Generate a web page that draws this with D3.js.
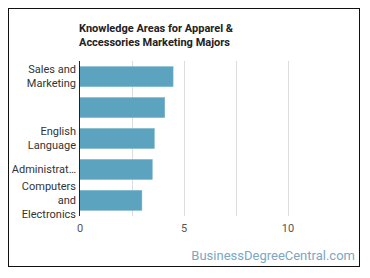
<!DOCTYPE html>
<html>
<head>
<meta charset="utf-8">
<script src="https://cdn.jsdelivr.net/npm/d3@7"></script>
<style>
  body { margin: 0; background: #fff; font-family: Roboto, "Noto Sans", sans-serif; }
</style>
</head>
<body>
<div id="chart"></div>
<script>
let categories = [
    ["Sales and", "Marketing"],
    [],
    ["English", "Language"],
    ["Administrat\u2026"],
    ["Computers", "and", "Electronics"]];
let values = [4.5, 4.1, 3.6, 3.5, 3.0];
let gridTicks = [0, 2.5, 5, 7.5, 10, 12.5];
let tickLabels = [0, 5, 10];

let width = 370;
let height = 278;
let margin = {top: 61, right: 30, bottom: 62, left: 79.5};

let svg = d3.select("#chart")
    .append("svg")
    .attr("width", width)
    .attr("height", height);

// outer frame
svg.append("rect")
    .attr("x", 8.5)
    .attr("y", 8.5)
    .attr("width", 351)
    .attr("height", 258)
    .attr("fill", "#fff")
    .attr("stroke", "#111")
    .attr("stroke-width", 1);

let x = d3.scaleLinear()
    .domain([0, 12.5])
    .range([margin.left, width - margin.right - 0.5]);

let y = d3.scaleBand()
    .domain(d3.range(categories.length))
    .range([margin.top, height - margin.bottom])
    .paddingInner(0.35)
    .paddingOuter(0.18);

// title
let title = svg.append("text")
    .attr("x", 79)
    .attr("y", 32)
    .style("font-size", "11px")
    .style("font-weight", "bold")
    .style("fill", "#222");
title.append("tspan").attr("x", 79).text("Knowledge Areas for Apparel &");
title.append("tspan").attr("x", 79).attr("dy", 14).text("Accessories Marketing Majors");

// grid
svg.selectAll(".grid")
    .data(gridTicks.slice(1, -1))
    .enter().append("line")
    .attr("class", "grid")
    .attr("x1", d => Math.round(x(d)) + 0.5)
    .attr("x2", d => Math.round(x(d)) + 0.5)
    .attr("y1", margin.top)
    .attr("y2", height - margin.bottom)
    .attr("stroke", "#ddd")
    .attr("stroke-width", 1);

// bars
svg.selectAll(".bar")
    .data(values)
    .enter().append("rect")
    .attr("class", "bar")
    .attr("x", x(0))
    .attr("y", (d, i) => y(i))
    .attr("width", d => x(d) - x(0))
    .attr("height", y.bandwidth())
    .attr("fill", "#5ba3bf")
    .attr("stroke", "#7db6cc")
    .attr("stroke-width", 0.5);

// y axis line
svg.append("line")
    .attr("x1", x(0))
    .attr("x2", x(0))
    .attr("y1", margin.top)
    .attr("y2", height - margin.bottom)
    .attr("stroke", "#222")
    .attr("stroke-width", 1);

// category labels
let labels = svg.selectAll(".cat")
    .data(categories)
    .enter().append("text")
    .attr("class", "cat")
    .attr("text-anchor", "end")
    .style("font-size", "11px")
    .style("fill", "#333");

labels.each(function(lines, i) {
    let cy = y(i) + y.bandwidth() / 2;
    let lh = 14;
    let start = cy - (lines.length - 1) * lh / 2;
    d3.select(this).selectAll("tspan")
        .data(lines)
        .enter().append("tspan")
        .attr("x", 76)
        .attr("y", (d, j) => start + j * lh)
        .attr("dy", "0.35em")
        .text(d => d);
});

// x tick labels
let xAxis = d3.axisBottom(x)
    .tickValues(tickLabels)
    .tickSize(0)
    .tickPadding(8);

svg.append("g")
    .attr("transform", "translate(0," + (height - margin.bottom) + ")")
    .call(xAxis)
    .call(g => g.select(".domain").remove())
    .call(g => g.selectAll("text")
        .style("font-size", "11px")
        .style("font-family", "Roboto, sans-serif")
        .style("fill", "#555"));

// watermark
svg.append("text")
    .attr("x", 355)
    .attr("y", 260)
    .attr("text-anchor", "end")
    .style("font-size", "13px")
    .style("fill", "#7ba7c2")
    .text("BusinessDegreeCentral.com");
</script>
</body>
</html>
